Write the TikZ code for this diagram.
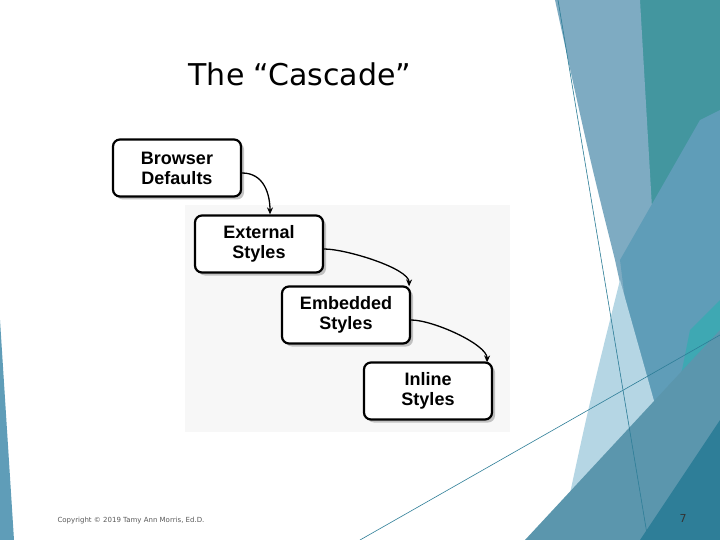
\documentclass[tikz,border=0pt]{standalone}
\usepackage{fontspec}
\setmainfont{DejaVu Sans}
\newfontfamily\boxfont{Liberation Sans}
\usetikzlibrary{shadows,arrows.meta}
\definecolor{teal1}{HTML}{43969F}
\definecolor{gblue}{HTML}{7EABC2}
\definecolor{mblue}{HTML}{5F9DB8}
\definecolor{lblue}{HTML}{B5D6E4}
\definecolor{dblue}{HTML}{5B96AD}
\definecolor{ddblue}{HTML}{2E7E98}
\tikzset{
 stepbox/.style={draw=black,line width=2.2pt,rounded corners=7pt,fill=white,minimum width=128pt,minimum height=57pt,align=center,font=\boxfont\bfseries\fontsize{18}{20}\selectfont,inner sep=2pt,drop shadow={shadow xshift=3pt,shadow yshift=-3pt,opacity=0.45}},
 conn/.style={line width=1.3pt,-{Stealth[length=7pt,width=6pt]}}
}
\begin{document}
\begin{tikzpicture}[x=1pt,y=-1pt]
\useasboundingbox (0,0) rectangle (720,540);
\fill[white] (0,0) rectangle (720,540);
% background decorations
\fill[teal1] (636,0) -- (720,0) -- (720,540) -- (665,540) -- (650,300) -- cycle;
\fill[gblue] (555,0) -- (640,0) -- (655,260) -- (650,420) -- (615,260) .. controls (590,160) .. cycle;
\fill[mblue] (620,260) -- (700,120) -- (720,110) -- (720,400) -- (660,520) -- (640,420) -- cycle;
\fill[lblue] (560,540) .. controls (590,400) .. (620,280) -- (665,440) -- (650,540) -- cycle;
\fill[teal1!80!cyan,opacity=0.8] (660,480) -- (690,330) -- (720,300) -- (720,540) -- (665,540) -- cycle;
\fill[dblue] (525,540) -- (720,330) -- (720,540) -- cycle;
\fill[ddblue] (640,540) -- (720,420) -- (720,540) -- cycle;
\fill[mblue] (0,320) -- (14,540) -- (0,540) -- cycle;
\draw[ddblue,line width=0.6pt] (558,0) -- (648,540);
\draw[ddblue,line width=0.6pt] (360,540) -- (720,335);
% faint picture background
\fill[gray!6] (185,205) rectangle (510,432);
% title
\node (title) at (300,74) {\fontsize{30}{34}\selectfont The “Cascade”};
% boxes
\node[stepbox] (b1) at (177,168) {Browser\\Defaults};
\node[stepbox] (b2) at (259,244) {External\\Styles};
\node[stepbox] (b3) at (346,315) {Embedded\\Styles};
\node[stepbox] (b4) at (428,391) {Inline\\Styles};
\draw[conn] (b1.east) ++(0,5) .. controls +(22,0) and +(0,-20) .. ([xshift=11pt]b2.north);
\draw[conn] (b2.east) ++(0,5) .. controls +(22,0) and +(0,-18) .. ([xshift=-2pt,yshift=-1pt]b3.north east) coordinate (t3);
\draw[conn] (b3.east) ++(0,5) .. controls +(22,0) and +(0,-18) .. ([xshift=-6pt,yshift=-1pt]b4.north east);
% footer
\node[anchor=west,font=\fontsize{7}{8}\selectfont,text=gray!70!black] (foot) at (54,521) {Copyright © 2019 Tamy Ann Morris, Ed.D.};
\node[font=\fontsize{11}{12}\selectfont,text=black!80] (pg) at (683,518) {7};
\end{tikzpicture}
\end{document}
